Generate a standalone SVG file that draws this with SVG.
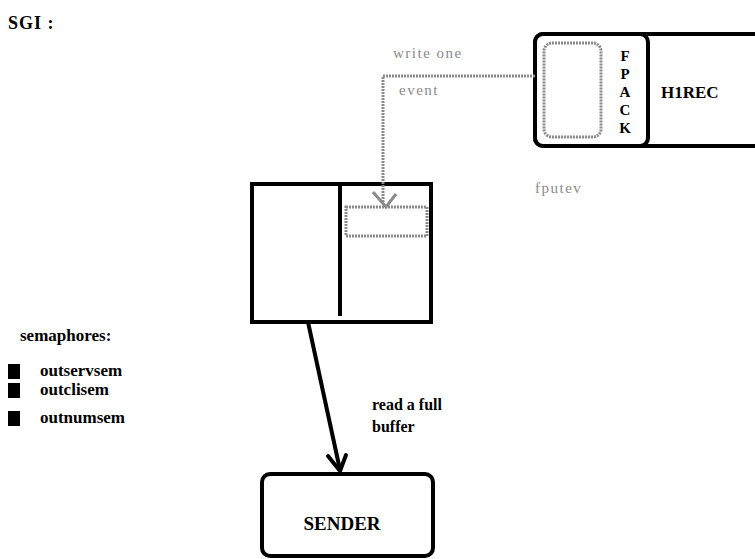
<svg xmlns="http://www.w3.org/2000/svg" width="755" height="559" viewBox="0 0 755 559">
<style>
.t{font-family:"Liberation Serif",serif;font-weight:bold;fill:#000}
.g{font-family:"Liberation Serif",serif;fill:#8a8a8a;font-size:15px;letter-spacing:1.5px}
.box{fill:#fff;stroke:#000;stroke-width:4}
.dot{fill:none;stroke:#8a8a8a;stroke-width:3;stroke-dasharray:2 1}
.con{fill:none;stroke:#000;stroke-width:4;stroke-linecap:round;stroke-linejoin:round}
</style>
<rect width="755" height="559" fill="#fff"/>
<text class="t" x="8" y="29" font-size="18" letter-spacing="1">SGI :</text>

<g id="h1rec">
  <rect class="box" x="535" y="34" width="240" height="112" rx="8"/>
  <text class="t" x="661" y="98" font-size="17">H1REC</text>
</g>
<g id="fpack">
  <rect class="box" x="535" y="34" width="113" height="112" rx="8" stroke-width="5"/>
  <rect class="dot" x="544" y="43" width="57" height="94" rx="8"/>
  <text class="t" x="625" y="61" font-size="15" text-anchor="middle">F</text>
  <text class="t" x="625" y="79" font-size="15" text-anchor="middle">P</text>
  <text class="t" x="625" y="97" font-size="15" text-anchor="middle">A</text>
  <text class="t" x="625" y="115" font-size="15" text-anchor="middle">C</text>
  <text class="t" x="625" y="133" font-size="15" text-anchor="middle">K</text>
</g>
<text class="g" x="535" y="193" letter-spacing="3">fputev</text>

<g id="buffer">
  <rect class="box" x="252" y="184" width="179" height="138"/>
  <line x1="340" y1="184" x2="340" y2="316" stroke="#000" stroke-width="4"/>
  <rect class="dot" x="346" y="207" width="81" height="29"/>
</g>

<g id="sender">
  <rect class="box" x="262" y="474" width="171" height="82" rx="8"/>
  <text class="t" x="342" y="530" font-size="19" text-anchor="middle">SENDER</text>
</g>

<g id="connectors">
  <polyline class="dot" points="535,76 383,76 383,204"/>
  <polyline fill="none" stroke="#8a8a8a" stroke-width="3" points="373,192 386,207 396,194"/>
  <line class="con" x1="308" y1="322" x2="340" y2="470"/>
  <polyline class="con" points="328,456 340,471 346,455"/>
</g>
<text class="g" x="393" y="58" letter-spacing="2.5">write one</text>
<text class="g" x="399" y="95" letter-spacing="2">event</text>
<text class="t" x="372" y="410" font-size="16">read a full</text>
<text class="t" x="372" y="432" font-size="16">buffer</text>

<g id="semaphores">
  <text class="t" x="20" y="341" font-size="17">semaphores:</text>
  <rect x="8" y="364" width="12" height="15" fill="#000"/>
  <rect x="8" y="383" width="12" height="15" fill="#000"/>
  <rect x="8" y="411" width="12" height="15" fill="#000"/>
  <text class="t" x="40" y="376" font-size="17">outservsem</text>
  <text class="t" x="40" y="395" font-size="17">outclisem</text>
  <text class="t" x="40" y="423" font-size="17">outnumsem</text>
</g>
</svg>
